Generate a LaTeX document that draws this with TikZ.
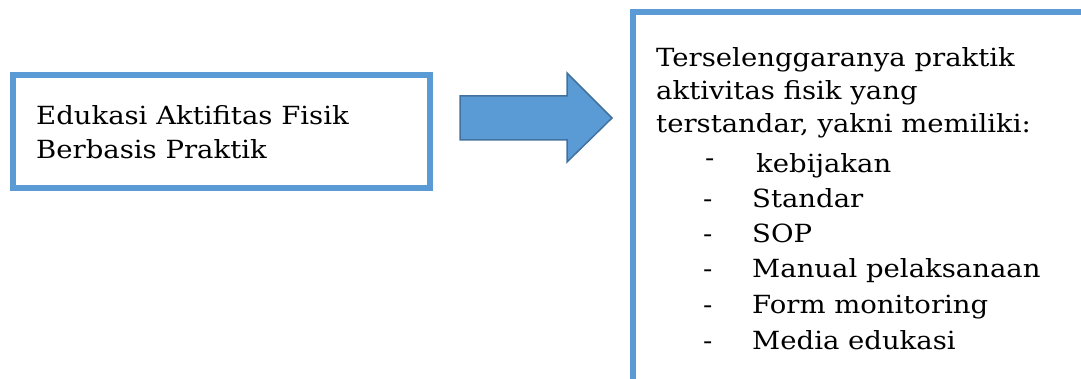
\documentclass[tikz,border=0pt]{standalone}
\usepackage{fontspec}
\setmainfont{DejaVu Serif}[FakeStretch=1.1]
\definecolor{boxblue}{HTML}{5B9BD5}
\definecolor{arrowline}{HTML}{41719C}
\tikzset{
  frame/.style={draw=boxblue, line width=5.8pt},
  txt/.style={anchor=base west, inner sep=0pt, font=\fontsize{25}{34}\selectfont},
  bigarrow/.style={fill=boxblue, draw=arrowline, line width=1.5pt, line join=miter}
}
\begin{document}
\begin{tikzpicture}[x=1pt,y=-1pt]
\useasboundingbox (0,0) rectangle (1081,379);
\begin{scope}
\clip (0,0) rectangle (1081,379);
% left box
\draw[frame] (13,75) rectangle (430,188);
% right box (extends past the page)
\draw[frame] (633,12) rectangle (1100,400);
% arrow
\draw[bigarrow] (460,96) -- (567,96) -- (567,73) -- (612,118) -- (567,162) -- (567,140) -- (460,140) -- cycle;
\end{scope}
% left text
\node[txt] (l1) at (36,125) {Edukasi Aktifitas Fisik};
\node[txt] (l2) at (36,159) {Berbasis Praktik};
% right text
\node[txt] (r1) at (656,67) {Terselenggaranya praktik};
\node[txt] (r2) at (656,100) {aktivitas fisik yang};
\node[txt] (r3) at (656,133) {terstandar, yakni memiliki:};
\node[txt] (d1) at (705,167) {-};
\node[txt] (i1) at (756,173) {kebijakan};
\node[txt] (d2) at (703,208) {-};
\node[txt] (i2) at (752,208) {Standar};
\node[txt] (d3) at (703,243) {-};
\node[txt] (i3) at (752,243) {SOP};
\node[txt] (d4) at (703,278) {-};
\node[txt] (i4) at (752,278) {Manual pelaksanaan};
\node[txt] (d5) at (703,313) {-};
\node[txt] (i5) at (752,313) {Form monitoring};
\node[txt] (d6) at (703,349) {-};
\node[txt] (i6) at (752,349) {Media edukasi};
\end{tikzpicture}
\end{document}
